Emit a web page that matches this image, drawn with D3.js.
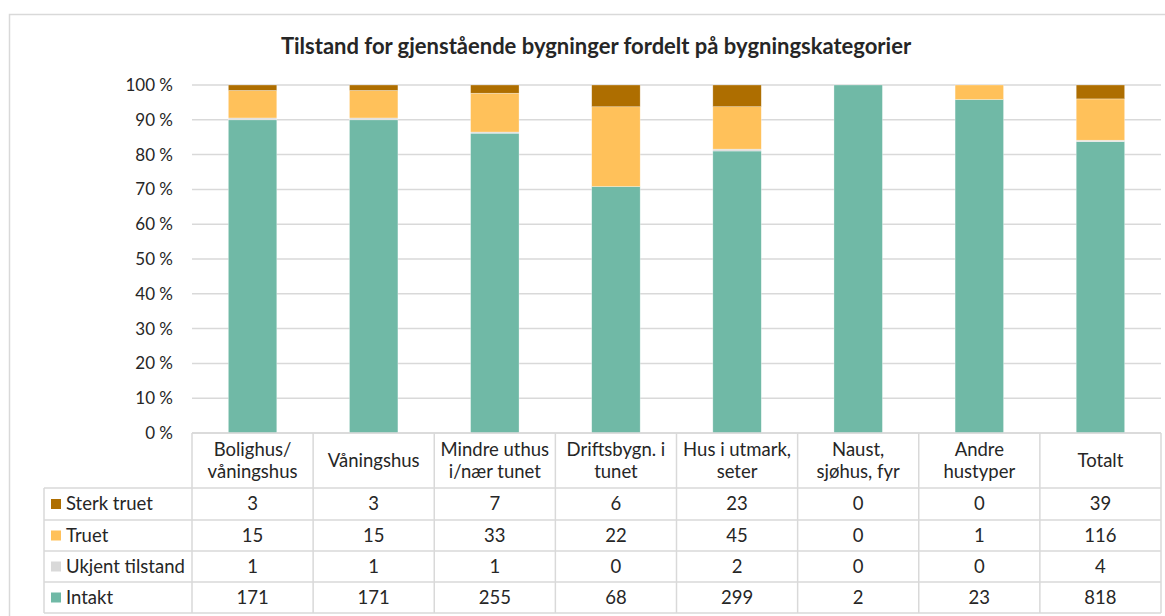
<!DOCTYPE html>
<html>
<head>
<meta charset="utf-8">
<script src="https://cdn.jsdelivr.net/npm/d3@7"></script>
<style>
  body { margin: 0; background: #fff; }
  svg text { font-family: Lato, "Open Sans", sans-serif; fill: #262626; }
</style>
</head>
<body>
<svg id="chart" width="1165" height="616"></svg>
<script>
"use strict"

// data
const categories = [
    ["Bolighus/", "våningshus"],
    ["Våningshus"],
    ["Mindre uthus", "i/nær tunet"],
    ["Driftsbygn. i", "tunet"],
    ["Hus i utmark,", "seter"],
    ["Naust,", "sjøhus, fyr"],
    ["Andre", "hustyper"],
    ["Totalt"]
];
const sterkTruet = [3, 3, 7, 6, 23, 0, 0, 39];
const truet = [15, 15, 33, 22, 45, 0, 1, 116];
const ukjent = [1, 1, 1, 0, 2, 0, 0, 4];
const intakt = [171, 171, 255, 68, 299, 2, 23, 818];
const yTicks = [0, 0.1, 0.2, 0.3, 0.4, 0.5, 0.6, 0.7, 0.8, 0.9, 1];

// table rows, top to bottom
const rows = [
    { name: "Sterk truet", values: sterkTruet, color: "#ae6e00" },
    { name: "Truet", values: truet, color: "#ffc15a" },
    { name: "Ukjent tilstand", values: ukjent, color: "#d9d9d9" },
    { name: "Intakt", values: intakt, color: "#70b9a6" }
];

const svg = d3.select("#chart");
const grid = "#d9d9d9";

// outer frame
svg.append("rect")
    .attr("x", 9.5).attr("y", 14.5)
    .attr("width", 1170).attr("height", 620)
    .attr("fill", "none").attr("stroke", grid).attr("stroke-width", 1.5);

svg.append("text")
    .attr("x", 596).attr("y", 54)
    .attr("text-anchor", "middle")
    .attr("font-size", 22).attr("font-weight", "bold")
    .text("Tilstand for gjenstående bygninger fordelt på bygningskategorier");

const plotLeft = 192, plotRight = 1161, plotTop = 85, plotBottom = 433;

let x = d3.scaleBand()
    .domain(d3.range(categories.length))
    .range([plotLeft, plotRight])
    .paddingInner(0.6).paddingOuter(0.3);

let y = d3.scaleLinear().domain([0, 1]).range([plotBottom, plotTop]);

// gridlines
svg.append("g").selectAll("line")
    .data(yTicks).enter().append("line")
    .attr("x1", plotLeft).attr("x2", plotRight)
    .attr("y1", d => y(d)).attr("y2", d => y(d))
    .attr("stroke", grid).attr("stroke-width", 1.5);

svg.append("g").selectAll("text")
    .data(yTicks).enter().append("text")
    .attr("x", 173).attr("y", d => y(d))
    .attr("dy", "0.35em")
    .attr("text-anchor", "end")
    .attr("font-size", 17)
    .text(d => Math.round(d * 100) + " %");

// stacked bars, bottom to top
let table = categories.map((c, i) => ({
    i: i,
    intakt: intakt[i], ukjent: ukjent[i], truet: truet[i], sterk: sterkTruet[i]
}));
let keys = ["intakt", "ukjent", "truet", "sterk"];
let colors = { intakt: "#70b9a6", ukjent: "#d9d9d9", truet: "#ffc15a", sterk: "#ae6e00" };

let series = d3.stack().keys(keys).offset(d3.stackOffsetExpand)(table);

svg.append("g").selectAll("g")
    .data(series).enter().append("g")
    .attr("fill", d => colors[d.key])
    .selectAll("rect")
    .data(d => d).enter().append("rect")
    .attr("x", d => x(d.data.i))
    .attr("width", x.bandwidth())
    .attr("y", d => y(d[1]))
    .attr("height", d => Math.max(0, y(d[0]) - y(d[1])))
    .attr("stroke", "#fff").attr("stroke-opacity", 0.5).attr("stroke-width", 0.6);

// data table
let colW = (plotRight - plotLeft) / categories.length;
let headTop = plotBottom, headBot = 488;
let rowY = [488, 520, 551, 582, 613];
let t = svg.append("g").attr("stroke", grid).attr("stroke-width", 1.5);

// horizontal lines
t.append("line").attr("x1", plotLeft).attr("x2", plotRight).attr("y1", headTop).attr("y2", headTop);
rowY.forEach(ry => {
    t.append("line").attr("x1", 44).attr("x2", plotRight).attr("y1", ry).attr("y2", ry);
});
// vertical lines
d3.range(categories.length + 1).forEach(k => {
    t.append("line")
        .attr("x1", plotLeft + k * colW).attr("x2", plotLeft + k * colW)
        .attr("y1", headTop).attr("y2", rowY[rowY.length - 1]);
});
t.append("line").attr("x1", 44).attr("x2", 44).attr("y1", rowY[0]).attr("y2", rowY[rowY.length - 1]);

// header labels
categories.forEach((lines, i) => {
    let cx = plotLeft + colW * (i + 0.5);
    let cy = (headTop + headBot) / 2;
    let lh = 22;
    let txt = svg.append("text")
        .attr("x", cx)
        .attr("text-anchor", "middle")
        .attr("font-size", 18.5);
    lines.forEach((ln, j) => {
        txt.append("tspan")
            .attr("x", cx)
            .attr("y", cy + (j - (lines.length - 1) / 2) * lh)
            .attr("dy", "0.35em")
            .text(ln);
    });
});

// legend + values
rows.forEach((r, ri) => {
    let cy = (rowY[ri] + rowY[ri + 1]) / 2;
    svg.append("rect")
        .attr("x", 51).attr("y", cy - 5)
        .attr("width", 10).attr("height", 10)
        .attr("fill", r.color);
    svg.append("text")
        .attr("x", 66).attr("y", cy).attr("dy", "0.35em")
        .attr("font-size", 18.5)
        .text(r.name);
    svg.append("g").selectAll("text")
        .data(r.values).enter().append("text")
        .attr("x", (d, i) => plotLeft + colW * (i + 0.5))
        .attr("y", cy).attr("dy", "0.35em")
        .attr("text-anchor", "middle")
        .attr("font-size", 18.5)
        .text(d => d);
});
</script>
</body>
</html>
